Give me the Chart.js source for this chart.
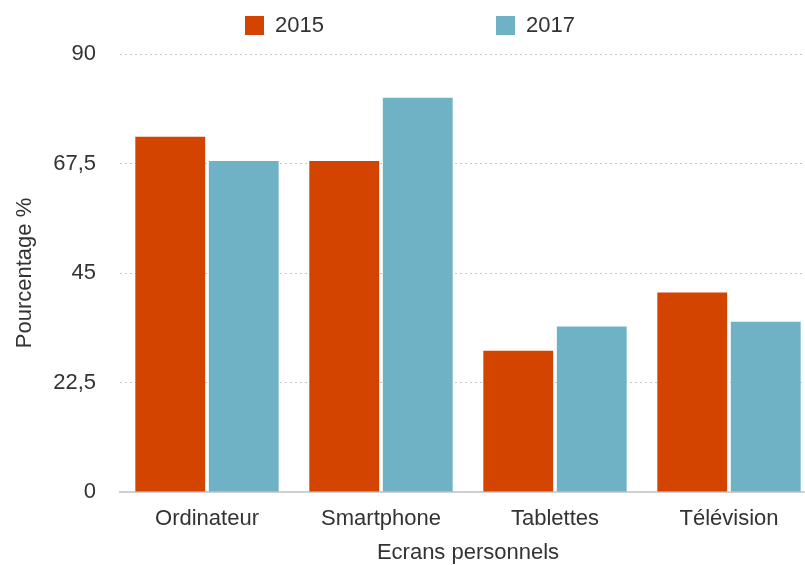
<!DOCTYPE html>
<html>
<head>
<meta charset="utf-8">
<script src="https://cdn.jsdelivr.net/npm/chart.js@4"></script>
<style>
    html, body { margin: 0; padding: 0; background: #fff; overflow: hidden; }
    .wrap { position: relative; width: 820px; height: 565px; }
    .legend { position: absolute; top: 12px; left: 0; width: 820px; display: flex; justify-content: center; gap: 172px; font: 22px "Liberation Sans", Arial, sans-serif; color: #333; }
    .legend span { display: flex; align-items: center; }
    .legend i { display: inline-block; width: 19px; height: 19px; margin-right: 11px; }
</style>
</head>
<body>
<div class="wrap">
    <div class="legend" id="legend"></div>
    <canvas id="chart" width="820" height="565"></canvas>
</div>
<script>
const categories = ['Ordinateur', 'Smartphone', 'Tablettes', 'Télévision'];
const years = ['2015', '2017'];
const values2015 = [73, 68, 29, 41];
const values2017 = [68, 81, 34, 35];
const yTicks = [0, 22.5, 45, 67.5, 90];
const colors = ['#d24400', '#6fb2c6'];

const font = { family: '"Liberation Sans", Arial, sans-serif', size: 22 };

// legend drawn as html, the spacing in the picture is wider than chart.js gives
document.getElementById('legend').innerHTML = years.map((y, i) =>
    `<span><i style="background:${colors[i]}"></i>${y}</span>`).join('');

new Chart(document.getElementById('chart'), {
    type: 'bar',
    data: {
        labels: categories,
        datasets: [
            { label: years[0], data: values2015, backgroundColor: colors[0], categoryPercentage: 0.845, barPercentage: 0.95 },
            { label: years[1], data: values2017, backgroundColor: colors[1], categoryPercentage: 0.845, barPercentage: 0.95 }
        ]
    },
    options: {
        responsive: false,
        animation: false,
        layout: { padding: { top: 54, right: 4, left: 8, bottom: 0 } },
        plugins: { legend: { display: false }, tooltip: { enabled: false } },
        scales: {
            x: {
                grid: { display: false },
                border: { display: true, color: '#d0d0d0', width: 2 },
                ticks: { font: font, color: '#333', padding: 6 },
                title: { display: true, text: 'Ecrans personnels', font: font, color: '#333', padding: { top: 5, bottom: -1 } },
                afterFit: s => { s.height = 565 - 492; }
            },
            y: {
                min: 0,
                max: 90,
                afterBuildTicks: s => { s.ticks = yTicks.map(v => ({ value: v })); },
                grid: { color: '#c8c8c8', drawTicks: false },
                border: { display: false, dash: [2, 3] },
                ticks: {
                    font: font, color: '#333', padding: 24,
                    callback: v => String(v).replace('.', ',')
                },
                title: { display: true, text: 'Pourcentage %', font: font, color: '#333', padding: { bottom: 0 } },
                afterFit: s => { s.width = 112; }
            }
        }
    }
});
</script>
</body>
</html>
